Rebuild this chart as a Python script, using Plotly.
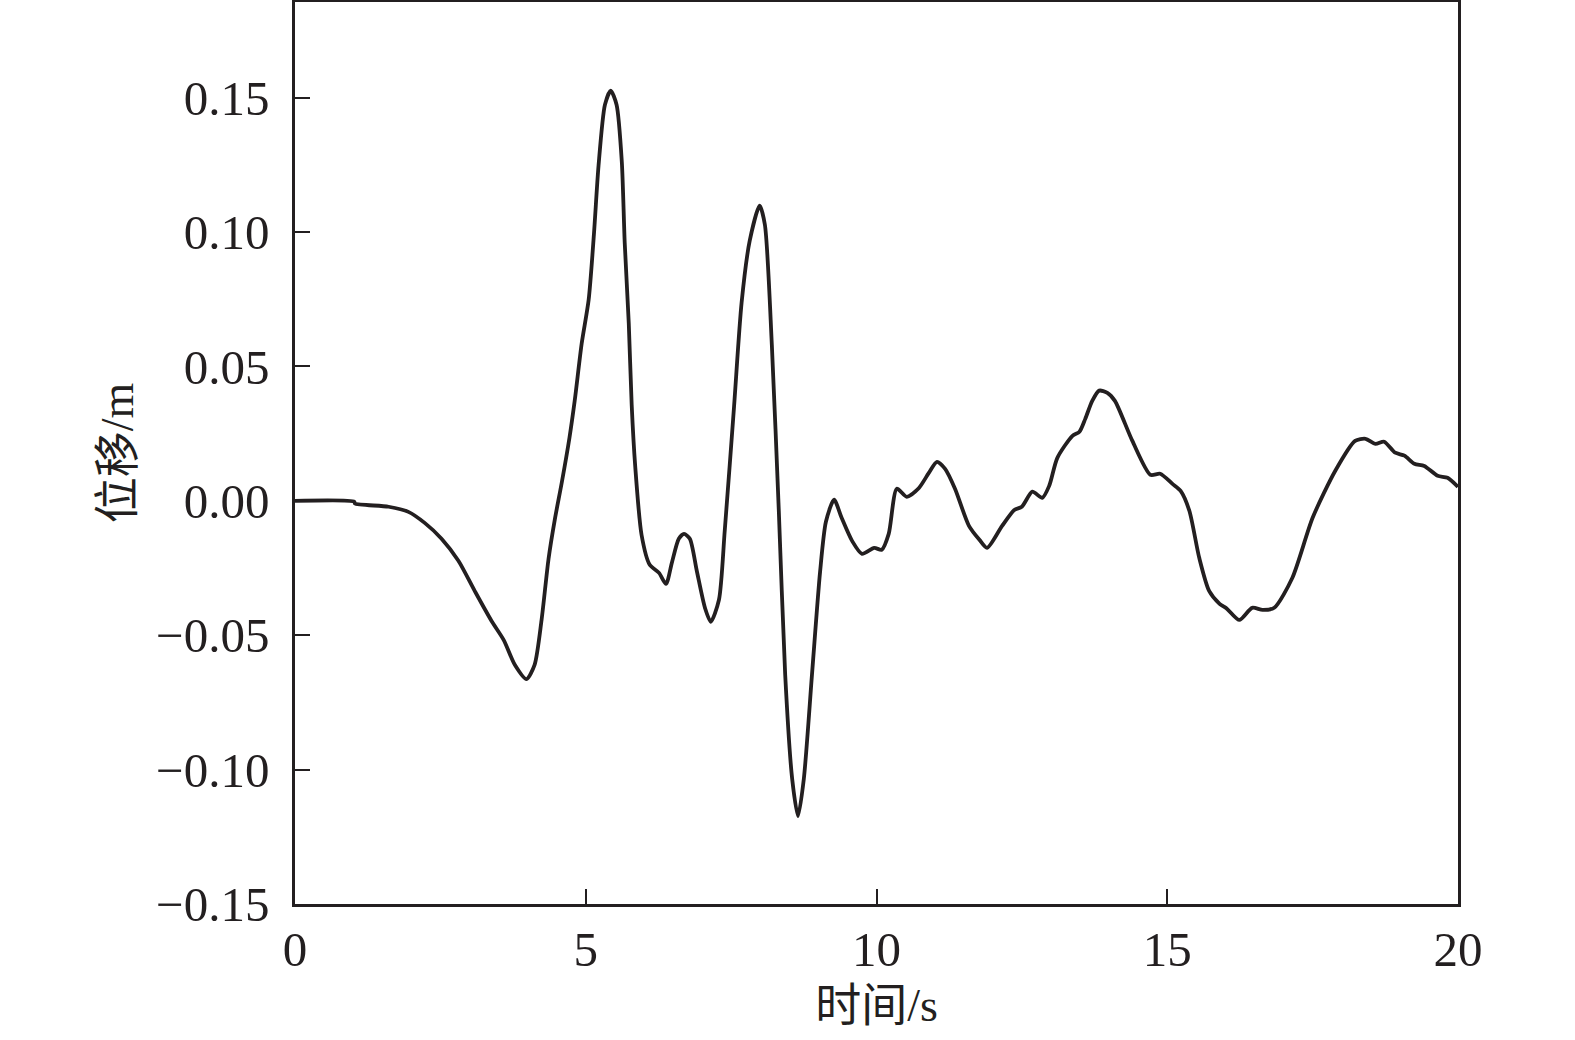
import plotly.graph_objects as go

# Time (s) and displacement (m)
time_s = [0.0, 1.02, 1.03, 1.61, 1.95, 2.23, 2.52, 2.81, 3.09, 3.38, 3.59, 3.78, 3.98,
          4.12, 4.24, 4.36, 4.47, 4.59, 4.72, 4.81, 4.93, 5.05, 5.14, 5.22, 5.33, 5.43,
          5.53, 5.62, 5.67, 5.74, 5.79, 5.85, 5.96, 6.10, 6.26, 6.38, 6.48, 6.60, 6.69,
          6.79, 6.91, 7.05, 7.15, 7.29, 7.39, 7.55, 7.68, 7.82, 7.99, 8.08, 8.20, 8.32,
          8.43, 8.55, 8.65, 8.75, 8.89, 9.03, 9.13, 9.27, 9.40, 9.58, 9.75, 9.96, 10.09,
          10.21, 10.35, 10.52, 10.73, 10.90, 11.04, 11.18, 11.35, 11.59, 11.77, 11.90,
          12.16, 12.37, 12.50, 12.68, 12.85, 12.97, 13.11, 13.37, 13.49, 13.59, 13.71,
          13.83, 13.97, 14.10, 14.40, 14.71, 14.88, 15.09, 15.23, 15.38, 15.55, 15.72,
          15.90, 16.03, 16.24, 16.46, 16.64, 16.84, 17.15, 17.50, 17.89, 18.23, 18.41,
          18.58, 18.73, 18.92, 19.08, 19.25, 19.42, 19.65, 19.82, 20.0]
disp_m = [0.0, -0.0003, -0.0010, -0.0022, -0.0041, -0.0082, -0.0141, -0.0223, -0.0335,
          -0.0447, -0.0518, -0.0610, -0.0663, -0.0610, -0.0443, -0.0216, -0.0067, 0.0071,
          0.0235, 0.0372, 0.0585, 0.0748, 0.0990, 0.1247, 0.1474, 0.1526, 0.1474, 0.1262,
          0.0961, 0.0659, 0.0357, 0.0130, -0.0127, -0.0238, -0.0268, -0.0309, -0.0231,
          -0.0141, -0.0123, -0.0141, -0.0261, -0.0398, -0.0450, -0.0369, -0.0112, 0.0350,
          0.0737, 0.0968, 0.1098, 0.1028, 0.0581, -0.0037, -0.0648, -0.1035, -0.1173,
          -0.1035, -0.0648, -0.0264, -0.0078, 0.0004, -0.0063, -0.0149, -0.0197, -0.0175,
          -0.0182, -0.0123, 0.0045, 0.0015, 0.0048, 0.0104, 0.0145, 0.0119, 0.0045,
          -0.0093, -0.0145, -0.0175, -0.0093, -0.0034, -0.0022, 0.0034, 0.0011, 0.0056,
          0.0160, 0.0242, 0.0257, 0.0305, 0.0372, 0.0410, 0.0402, 0.0372, 0.0223, 0.0097,
          0.0101, 0.0063, 0.0037, -0.0037, -0.0212, -0.0335, -0.0383, -0.0402, -0.0443,
          -0.0398, -0.0406, -0.0398, -0.0287, -0.0063, 0.0112, 0.0223, 0.0231, 0.0212,
          0.0220, 0.0179, 0.0168, 0.0138, 0.0130, 0.0093, 0.0086, 0.0052]

x_ticks = [0, 5, 10, 15, 20]
y_ticks = [-0.15, -0.10, -0.05, 0.00, 0.05, 0.10, 0.15]

ink = "#231f20"
font_fam = "Liberation Serif, 'Noto Sans CJK SC', serif"

fig = go.Figure()
fig.add_trace(go.Scatter(
    x=time_s, y=disp_m, mode="lines",
    line=dict(color=ink, width=3.8, shape="spline", smoothing=0.7),
    showlegend=False, hoverinfo="skip"))

fig.update_layout(
    width=1575, height=1040,
    paper_bgcolor="white", plot_bgcolor="white",
    margin=dict(l=294.5, r=117, t=1.5, b=136, autoexpand=False),
    font=dict(family=font_fam, size=46, color=ink),
)
fig.update_xaxes(
    range=[0, 20], tickmode="array", tickvals=x_ticks,
    ticktext=[str(v) for v in x_ticks],
    ticks="inside", ticklen=15, tickwidth=2.4, tickcolor=ink,
    showline=True, linewidth=2.6, linecolor=ink, mirror=True,
    showgrid=False, zeroline=False,
    ticklabelstandoff=0,
    title=dict(text="时间/s", font=dict(family=font_fam, size=46, color=ink), standoff=14),
    tickfont=dict(family=font_fam, size=49, color=ink),
)
fig.update_yaxes(
    range=[-0.15, 0.1856], tickmode="array", tickvals=y_ticks,
    ticktext=[("−" if v < 0 else "") + f"{abs(v):.2f}" for v in y_ticks],
    ticks="inside", ticklen=15, tickwidth=2.4, tickcolor=ink,
    showline=True, linewidth=2.6, linecolor=ink, mirror=True,
    showgrid=False, zeroline=False,
    ticklabelstandoff=13,
    title=dict(text="位移/m", font=dict(family=font_fam, size=46, color=ink), standoff=8),
    tickfont=dict(family=font_fam, size=49, color=ink),
)

fig.write_html("out.html", config={"displayModeBar": False},
               post_script="document.body.style.margin='0';document.body.style.overflow='hidden';")
